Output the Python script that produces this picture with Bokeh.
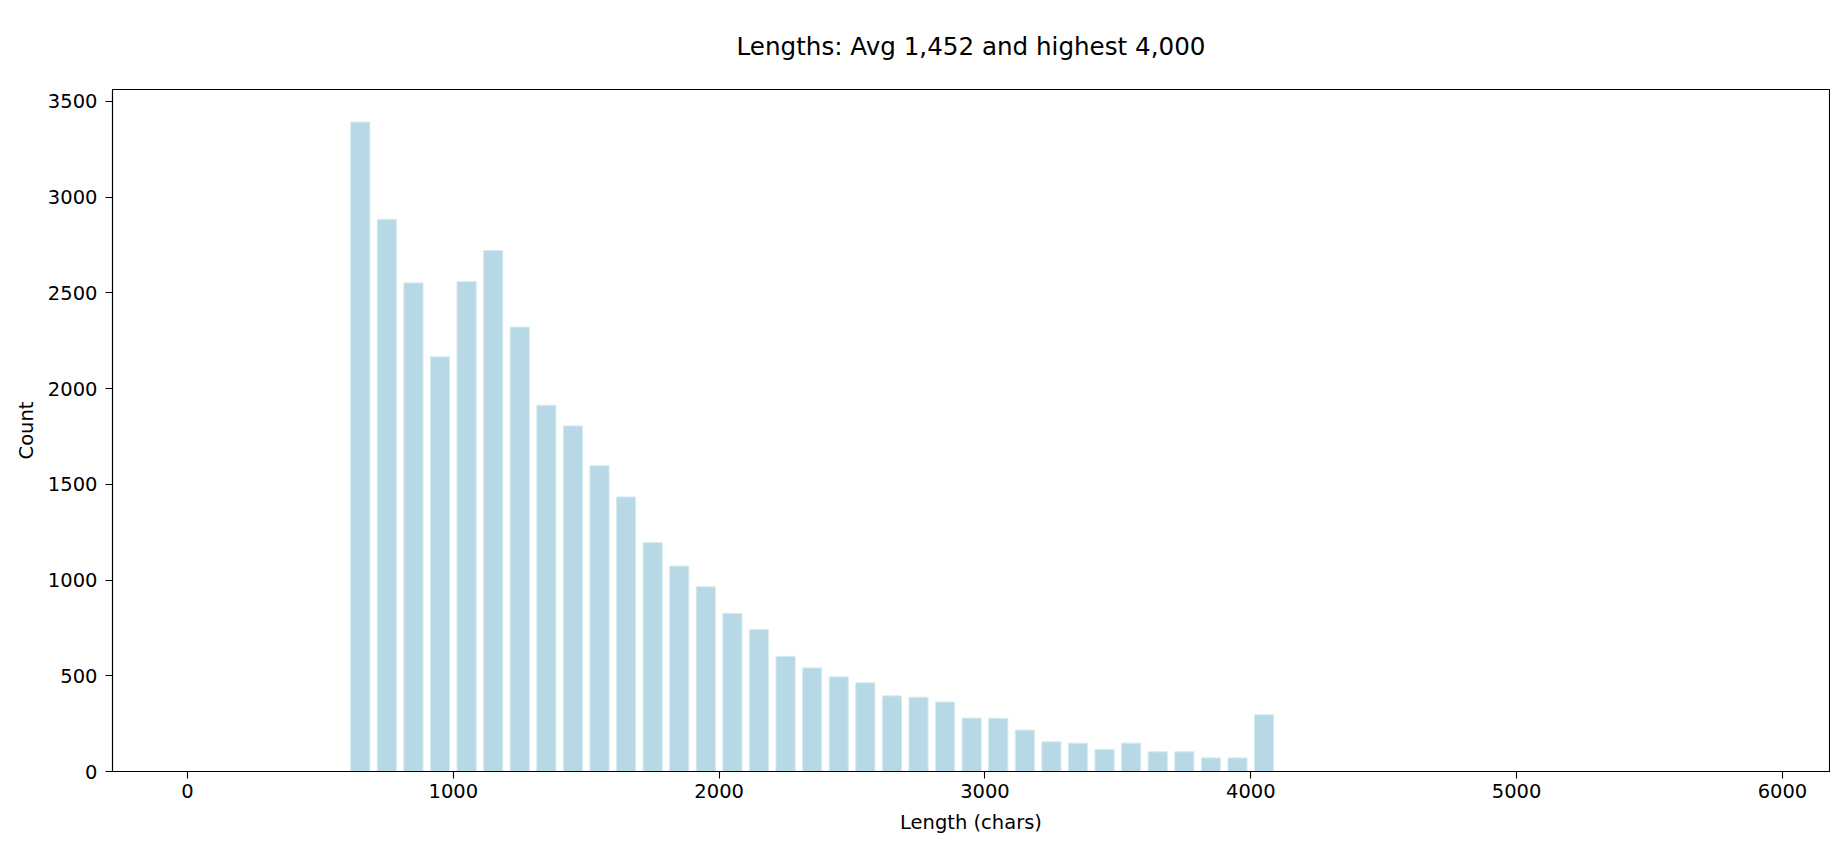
from bokeh.plotting import figure
from bokeh.models import FixedTicker, Range1d, ColumnDataSource
from bokeh.embed import file_html
from bokeh.resources import INLINE

# Histogram of text lengths (bin width 100 chars)
bin_centers = [650, 750, 850, 950, 1050, 1150, 1250, 1350, 1450, 1550,
               1650, 1750, 1850, 1950, 2050, 2150, 2250, 2350, 2450, 2550,
               2650, 2750, 2850, 2950, 3050, 3150, 3250, 3350, 3450, 3550,
               3650, 3750, 3850, 3950, 4050]
counts = [3392, 2884, 2552, 2166, 2559, 2721, 2321, 1913, 1805, 1597,
          1434, 1196, 1073, 965, 826, 741, 601, 541, 494, 463,
          395, 388, 363, 279, 278, 216, 155, 148, 116, 148,
          103, 103, 71, 71, 296]
x_ticks = [0, 1000, 2000, 3000, 4000, 5000, 6000]
y_ticks = [0, 500, 1000, 1500, 2000, 2500, 3000, 3500]

title_text = "Lengths: Avg 1,452 and highest 4,000"
x_label = "Length (chars)"
y_label = "Count"

FONT = "DejaVu Sans"

source = ColumnDataSource(data=dict(x=bin_centers, top=counts))

p = figure(width=1830, height=846, output_backend="svg", toolbar_location=None,
           x_range=Range1d(-282, 6177), y_range=Range1d(0, 3562),
           min_border_left=112, min_border_right=1,
           min_border_top=88, min_border_bottom=75,
           background_fill_color="white", border_fill_color="white")

p.vbar(x="x", top="top", bottom=0, width=72, source=source,
       fill_color="#B7D9E5", line_color="#D6EAF1", line_width=1)

xaxis = p.below[0]
yaxis = p.left[0]

p.title.text = title_text
p.title.align = "center"
p.title.vertical_align = "bottom"
p.title.text_font = FONT
p.title.text_font_size = "24.6px"
p.title.text_font_style = "normal"
p.title.text_color = "black"
p.title.standoff = 58

p.xgrid.visible = False
p.ygrid.visible = False
p.outline_line_color = "black"
p.outline_line_width = 1.1
p.outline_line_alpha = 1

for ax in (xaxis, yaxis):
    ax.axis_line_color = "black"
    ax.axis_line_width = 1.1
    ax.major_tick_line_color = "black"
    ax.major_tick_line_width = 1.1
    ax.major_tick_in = 0
    ax.major_tick_out = 7
    ax.minor_tick_line_color = None
    ax.major_label_text_font = FONT
    ax.major_label_text_font_size = "19.5px"
    ax.major_label_text_color = "black"
    ax.axis_label_text_font = FONT
    ax.axis_label_text_font_size = "19.5px"
    ax.axis_label_text_font_style = "normal"
    ax.axis_label_text_color = "black"

xaxis.ticker = FixedTicker(ticks=x_ticks)
yaxis.ticker = FixedTicker(ticks=y_ticks)
xaxis.axis_label = x_label
yaxis.axis_label = y_label
xaxis.major_label_standoff = 5
yaxis.major_label_standoff = 8
xaxis.axis_label_standoff = 10
yaxis.axis_label_standoff = 7

open("out.html", "w").write(file_html(p, INLINE))
